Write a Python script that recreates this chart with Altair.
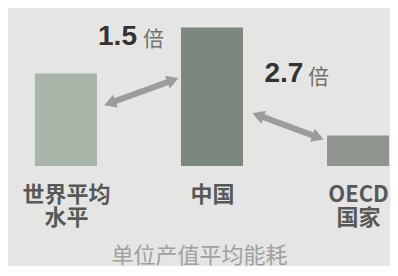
import altair as alt
import pandas as pd

# Data
categories = ["世界平均水平", "中国", "OECD国家"]
positions = [0, 1, 2]
values = [1.0, 1.5, 0.33]
bar_colors = ["#a8b6aa", "#7b887d", "#8d958e"]

ratio_texts = ["1.5", "2.7"]
ratio_x = [0.353, 1.493]
ratio_y = [1.305, 0.906]
bei_x = [0.527, 1.658]
bei_y = [1.30, 0.89]

arrow_x1 = [0.30, 1.315]
arrow_y1 = [0.68, 0.55]
arrow_x2 = [0.733, 1.726]
arrow_y2 = [0.93, 0.31]
arrow_angle = [340, 20]

bars = pd.DataFrame({"cat": categories, "pos": positions, "value": values, "color": bar_colors})
ratios = pd.DataFrame({"t": ratio_texts, "x": ratio_x, "y": ratio_y, "bx": bei_x, "by": bei_y})
arrows = pd.DataFrame({"x1": arrow_x1, "y1": arrow_y1, "x2": arrow_x2, "y2": arrow_y2, "angle": arrow_angle})

FONT = "Noto Sans CJK SC"
xscale = alt.Scale(domain=[-0.397, 2.219], nice=False, zero=False, padding=0)
yscale = alt.Scale(domain=[0, 1.71], nice=False, padding=0)

label_expr = "datum.value == 0 ? ['世界平均','水平'] : datum.value == 1 ? ['中国'] : ['OECD','国家']"

bar = alt.Chart(bars).mark_bar(size=62).encode(
    x=alt.X("pos:Q", scale=xscale,
            axis=alt.Axis(values=positions, labelExpr=label_expr, domain=False, ticks=False, grid=False,
                          labelFont=FONT, labelFontSize=22, labelColor="#585858", labelFontWeight="bold",
                          labelPadding=18, labelLineHeight=23, labelOverlap=False, labelFlush=False,
                          title="单位产值平均能耗", titleFont=FONT, titleFontSize=22,
                          titleColor="#a0a0a0", titleFontWeight="normal", titlePadding=17)),
    y=alt.Y("value:Q", scale=yscale, axis=None),
    color=alt.Color("color:N", scale=None),
)

rule = alt.Chart(arrows).mark_rule(strokeWidth=6, color="#9c9c9c").encode(
    x="x1:Q", y="y1:Q", x2="x2:Q", y2="y2:Q"
)
head_r = alt.Chart(arrows).mark_point(shape="triangle-right", size=190, filled=True, color="#9c9c9c", opacity=1).encode(
    x="x2:Q", y="y2:Q", angle=alt.Angle("angle:Q", scale=None)
)
head_l = alt.Chart(arrows).mark_point(shape="triangle-left", size=190, filled=True, color="#9c9c9c", opacity=1).encode(
    x="x1:Q", y="y1:Q", angle=alt.Angle("angle:Q", scale=None)
)

num = alt.Chart(ratios).mark_text(font="Liberation Sans", fontSize=28, fontWeight="bold", color="#333333",
                                  align="center", baseline="alphabetic").encode(
    x="x:Q", y="y:Q", text="t:N"
)
bei = alt.Chart(ratios).mark_text(font=FONT, fontSize=21, color="#707070",
                                  align="left", baseline="alphabetic").encode(
    x="bx:Q", y="by:Q", text=alt.value("倍")
)

chart = alt.layer(bar, rule, head_l, head_r, num, bei).properties(
    width=382, height=158, background="#e5e5e3",
    padding=0, autosize=alt.AutoSizeParams(type="pad"),
).configure_view(stroke=None)

chart.save("out.html", embed_options={"renderer": "svg", "actions": False})
